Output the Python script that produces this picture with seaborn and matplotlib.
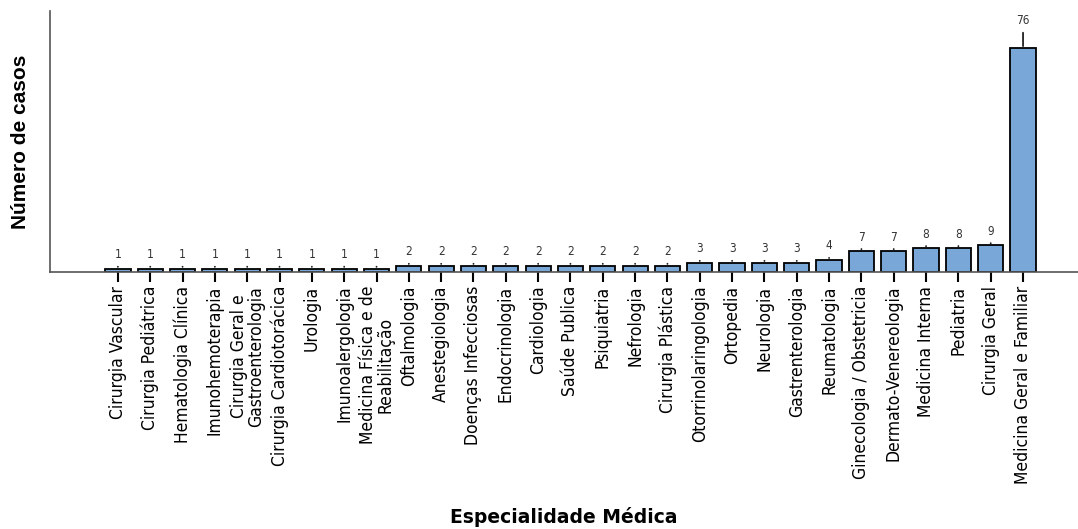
import matplotlib
matplotlib.use("Agg")
import matplotlib.pyplot as plt
import seaborn as sns
import pandas as pd

especialidades = [
    "Cirurgia Vascular", "Cirurgia Pediátrica", "Hematologia Clínica",
    "Imunohemoterapia", "Cirurgia Geral e\nGastroenterologia",
    "Cirurgia Cardiotorácica", "Urologia", "Imunoalergologia",
    "Medicina Física e de\nReabilitação", "Oftalmologia", "Anestegiologia",
    "Doenças Infecciosas", "Endocrinologia", "Cardiologia", "Saúde Publica",
    "Psiquiatria", "Nefrologia", "Cirurgia Plástica", "Otorrinolaringologia",
    "Ortopedia", "Neurologia", "Gastrenterologia", "Reumatologia",
    "Ginecologia / Obstetricia", "Dermato-Venereologia", "Medicina Interna",
    "Pediatria", "Cirurgia Geral", "Medicina Geral e Familiar",
]
casos = [1, 1, 1, 1, 1, 1, 1, 1, 1, 2, 2, 2, 2, 2, 2, 2, 2, 2,
         3, 3, 3, 3, 4, 7, 7, 8, 8, 9, 76]

df = pd.DataFrame({"Especialidade": especialidades, "Casos": casos})

sns.set_theme(style="white")
plt.rcParams["font.family"] = ["DejaVu Sans"]

fig = plt.figure(figsize=(10.78, 5.29), dpi=100)
ax = fig.add_axes([0.0464, 0.486, 0.9536, 0.493])

sns.barplot(data=df, x="Especialidade", y="Casos", color="#79A8D8",
            saturation=1, width=0.78, edgecolor="black", linewidth=1.3,
            errorbar=None, ax=ax)

ax.set_xlim(-2.1, 29.7)
ax.set_ylim(0, 88.6)

# value labels with short leader lines
top = max(casos)
for i, v in enumerate(casos):
    big = v == top
    ax.annotate(str(v), xy=(i, v), xytext=(0, 15 if big else 5.5),
                textcoords="offset points", ha="center", va="bottom",
                fontsize=8.5, fontstretch="condensed", color="#333333",
                arrowprops=dict(arrowstyle="-", color="#222222", lw=1.3,
                                shrinkA=1.5, shrinkB=-1.5))

ax.set_yticks([])
ax.tick_params(axis="x", bottom=True, length=7, width=1.5, color="black",
               pad=3, labelsize=12.5, labelcolor="black")
plt.setp(ax.get_xticklabels(), rotation=90, ha="center", va="top",
         multialignment="center", fontstretch="condensed",
         linespacing=0.95)

for side in ("top", "right"):
    ax.spines[side].set_visible(False)
for side in ("left", "bottom"):
    ax.spines[side].set_color("#555555")
    ax.spines[side].set_linewidth(1.2)

ax.set_ylabel("Número de casos", fontsize=15, fontweight="bold",
              color="black", family=["Liberation Sans", "DejaVu Sans"])
ax.yaxis.set_label_coords(-0.019, 0.5)
ax.set_xlabel("Especialidade Médica", fontsize=13.5, fontweight="bold",
              color="black")
ax.xaxis.label.set_va("center")
ax.xaxis.set_label_coords(0.5, -0.94)

fig.savefig("out.png", dpi=100)
